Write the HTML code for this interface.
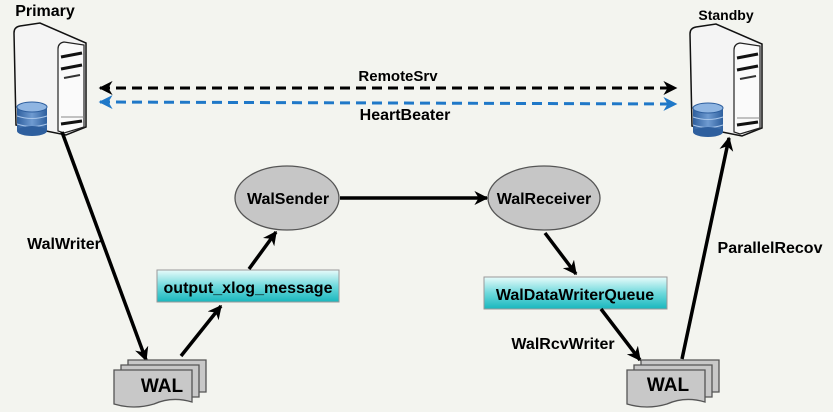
<!DOCTYPE html>
<html><head><meta charset="utf-8"><style>
body{margin:0;background:#f3f4ef;}
svg{display:block;font-family:"Liberation Sans",Arial,sans-serif;font-weight:bold;}
</style></head><body>
<svg width="833" height="412" viewBox="0 0 833 412" xmlns="http://www.w3.org/2000/svg">
<defs>
<marker id="ak" viewBox="0 0 10 10" markerWidth="14" markerHeight="14" refX="9" refY="5" orient="auto" markerUnits="userSpaceOnUse"><path d="M0,0 L10,5 L0,10 L3,5 Z" fill="#000"/></marker>
<marker id="au" viewBox="0 0 10 10" markerWidth="14" markerHeight="14" refX="9" refY="5" orient="auto" markerUnits="userSpaceOnUse"><path d="M0,0 L10,5 L0,10 L3,5 Z" fill="#1f78c8"/></marker>
<marker id="aks" viewBox="0 0 10 10" markerWidth="14" markerHeight="14" refX="1" refY="5" orient="auto" markerUnits="userSpaceOnUse"><path d="M10,0 L0,5 L10,10 L7,5 Z" fill="#000"/></marker>
<marker id="aus" viewBox="0 0 10 10" markerWidth="14" markerHeight="14" refX="1" refY="5" orient="auto" markerUnits="userSpaceOnUse"><path d="M10,0 L0,5 L10,10 L7,5 Z" fill="#1f78c8"/></marker>
<linearGradient id="cy" x1="0" y1="0" x2="0" y2="1"><stop offset="0" stop-color="#e8fbfb"/><stop offset="0.5" stop-color="#6fd9dc"/><stop offset="1" stop-color="#19b7bd"/></linearGradient>
<linearGradient id="db" x1="0" y1="0" x2="1" y2="0"><stop offset="0" stop-color="#2e5f9e"/><stop offset="0.5" stop-color="#6f9bd1"/><stop offset="1" stop-color="#2e5f9e"/></linearGradient>
<g id="srv">
<path d="M2,10 Q2,4 8,3 L28,0 L74,20 L74,104 L54,112 L4,102 Z" fill="#f4f4f4" stroke="#111" stroke-width="1.5"/>
<path d="M46,26 Q46,20 52,19 L72,22 L72,104 L52,110 L46,108 Z" fill="#fafafa" stroke="#222" stroke-width="1.2"/>
<path d="M49,34 L70,30" stroke="#111" stroke-width="3"/>
<path d="M49,46 L70,42" stroke="#111" stroke-width="3"/>
<path d="M52,55 L68,52" stroke="#333" stroke-width="2"/>
<path d="M49,101 L70,98" stroke="#111" stroke-width="3"/>
<path d="M49,94 L72,94" stroke="#888" stroke-width="1"/>
<rect x="5" y="84" width="30" height="24" fill="url(#db)"/>
<ellipse cx="20" cy="84" rx="15" ry="5" fill="#8fb5e2" stroke="#2e5f9e"/>
<path d="M5,93 Q20,98 35,93 M5,101 Q20,106 35,101" stroke="#a9c6ea" fill="none"/>
<ellipse cx="20" cy="108" rx="15" ry="5" fill="#2e5f9e"/>
</g>
<g id="wal">
<path d="M14,0 H92 V32 H14 Z" fill="#c8c8c8" stroke="#555" stroke-width="1.3"/>
<path d="M7,5 H85 V37 H7 Z" fill="#c8c8c8" stroke="#555" stroke-width="1.3"/>
<path d="M0,10 H78 V42 Q58,36 40,44 Q20,50 0,44 Z" fill="#c8c8c8" stroke="#555" stroke-width="1.3"/>
</g>
</defs>

<text x="45" y="16" font-size="16" text-anchor="middle">Primary</text>
<text x="726" y="20" font-size="14" text-anchor="middle">Standby</text>
<use href="#srv" x="12" y="23"/>
<use href="#srv" x="688" y="24"/>

<line x1="100" y1="88" x2="676" y2="88" stroke="#000" stroke-width="3" stroke-dasharray="10,6" marker-start="url(#aks)" marker-end="url(#ak)"/>
<line x1="100" y1="102" x2="676" y2="104" stroke="#1f78c8" stroke-width="3" stroke-dasharray="10,6" marker-start="url(#aus)" marker-end="url(#au)"/>
<text x="398" y="81" font-size="15" text-anchor="middle">RemoteSrv</text>
<text x="405" y="120" font-size="16" text-anchor="middle">HeartBeater</text>

<line x1="62" y1="132" x2="146" y2="360" stroke="#000" stroke-width="3.5" marker-end="url(#ak)"/>
<text x="64" y="249" font-size="16" text-anchor="middle">WalWriter</text>

<use href="#wal" x="114" y="360"/>
<text x="162" y="392" font-size="19" text-anchor="middle">WAL</text>

<line x1="181" y1="356" x2="221" y2="306" stroke="#000" stroke-width="3.5" marker-end="url(#ak)"/>
<rect x="157" y="270" width="182" height="32" fill="url(#cy)" stroke="#999"/>
<text x="248" y="293" font-size="16" text-anchor="middle">output_xlog_message</text>
<line x1="249" y1="269" x2="276" y2="232" stroke="#000" stroke-width="3.5" marker-end="url(#ak)"/>

<ellipse cx="287" cy="198" rx="52" ry="32" fill="#c6c6c6" stroke="#555" stroke-width="1.3"/>
<text x="288" y="204" font-size="16" text-anchor="middle">WalSender</text>
<line x1="340" y1="198" x2="487" y2="198" stroke="#000" stroke-width="3.5" marker-end="url(#ak)"/>
<ellipse cx="544" cy="198" rx="56" ry="32" fill="#c6c6c6" stroke="#555" stroke-width="1.3"/>
<text x="544" y="204" font-size="16" text-anchor="middle">WalReceiver</text>

<line x1="545" y1="233" x2="576" y2="274" stroke="#000" stroke-width="3.5" marker-end="url(#ak)"/>
<rect x="484" y="277" width="183" height="32" fill="url(#cy)" stroke="#999"/>
<text x="575" y="300" font-size="16" text-anchor="middle">WalDataWriterQueue</text>
<line x1="601" y1="309" x2="640" y2="360" stroke="#000" stroke-width="3.5" marker-end="url(#ak)"/>
<text x="563" y="349" font-size="16" text-anchor="middle">WalRcvWriter</text>

<use href="#wal" x="627" y="360"/>
<text x="668" y="391" font-size="19" text-anchor="middle">WAL</text>

<line x1="682" y1="359" x2="729" y2="138" stroke="#000" stroke-width="3.5" marker-end="url(#ak)"/>
<text x="770" y="253" font-size="16" text-anchor="middle">ParallelRecov</text>
</svg>
</body></html>
